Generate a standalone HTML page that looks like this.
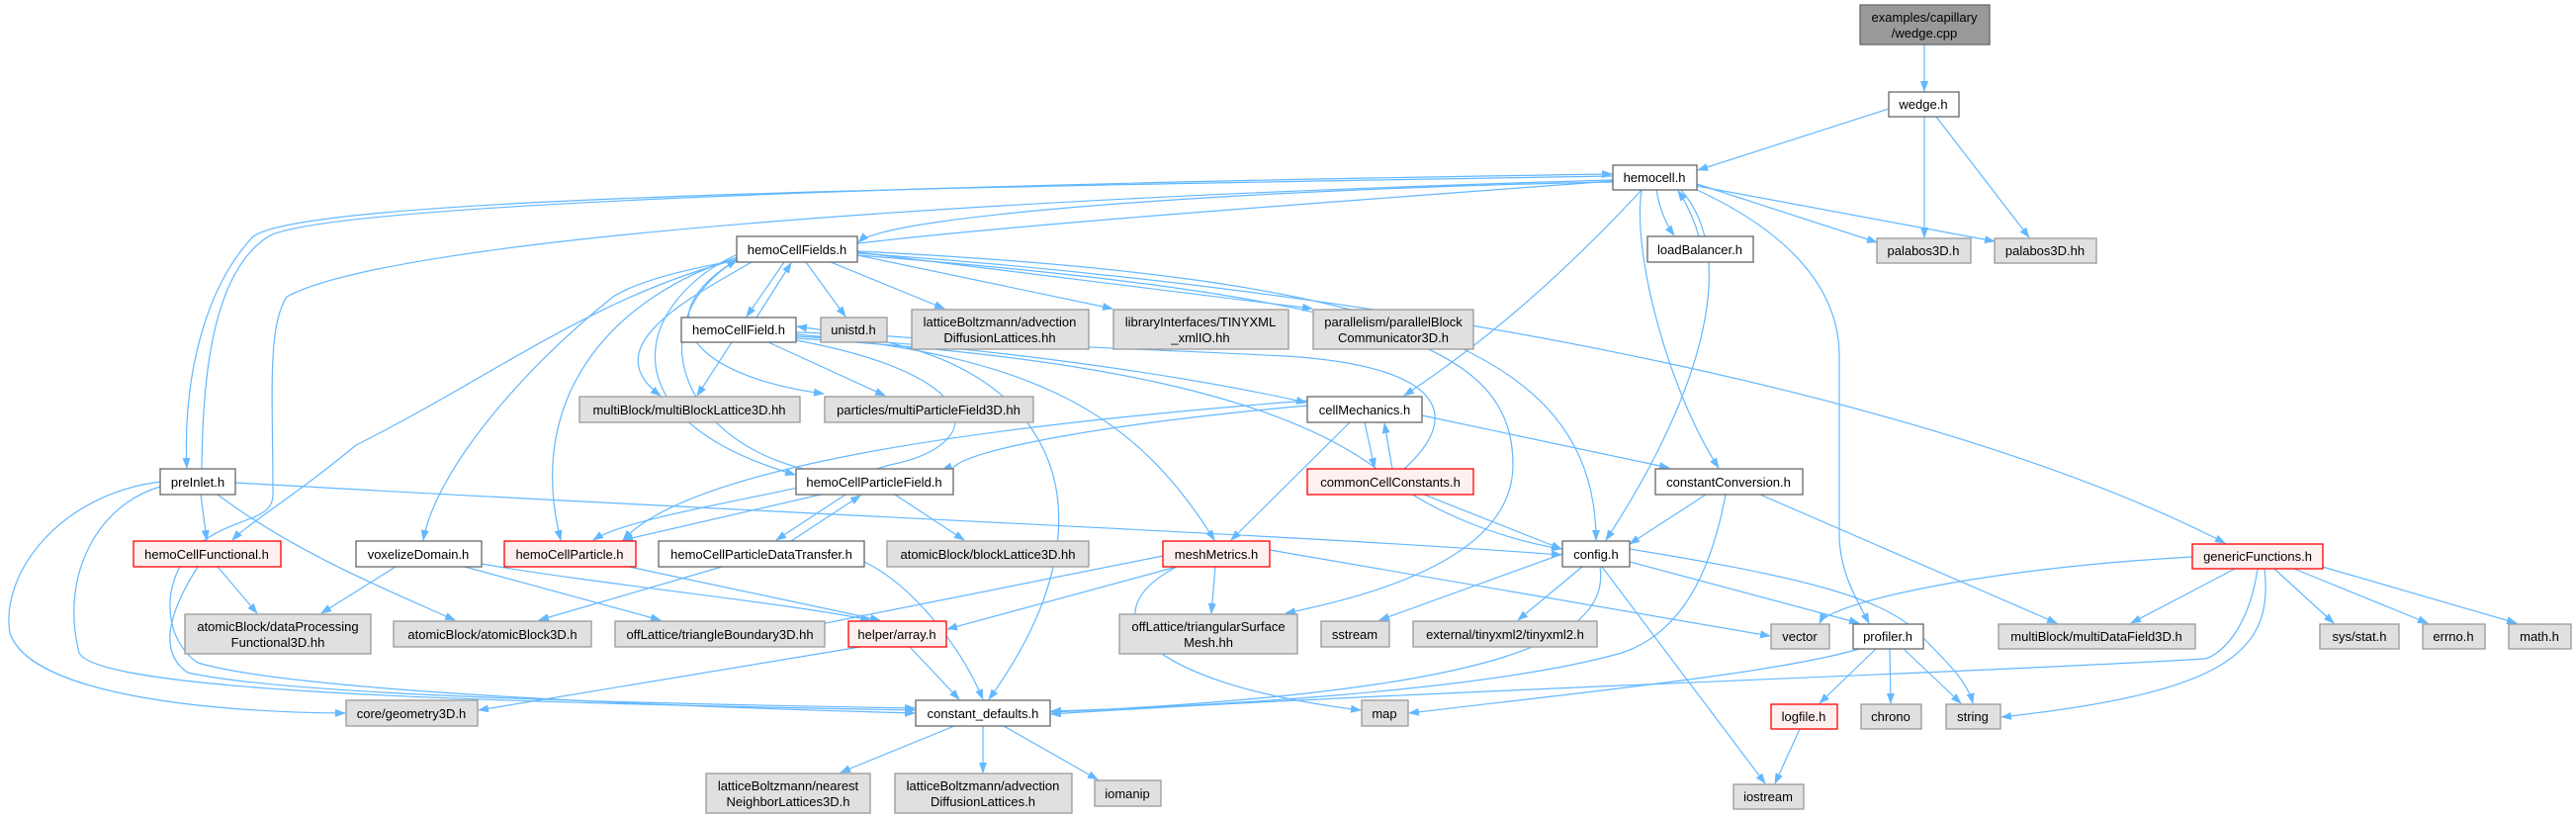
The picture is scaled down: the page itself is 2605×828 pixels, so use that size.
<!DOCTYPE html>
<html><head><meta charset="utf-8"><style>
html,body{margin:0;padding:0;background:#fff;}
svg{display:block;}
text{font-family:"Liberation Sans",Arial,sans-serif;font-size:13px;fill:#000;}
.e{fill:none;stroke:#63B8FF;stroke-width:1.2;marker-end:url(#a);}
.w{fill:#fff;stroke:#666;stroke-width:1.3;}
.g{fill:#e0e0e0;stroke:#999;stroke-width:1.3;}
.r{fill:#fff0f0;stroke:#f00;stroke-width:1.3;}
.k{fill:#999;stroke:#666;stroke-width:1.3;}
</style></head><body>
<svg width="2605" height="828" viewBox="0 0 2605 828" xmlns="http://www.w3.org/2000/svg">
<defs><marker id="a" markerWidth="11" markerHeight="8" refX="10" refY="4" orient="auto" markerUnits="userSpaceOnUse"><path d="M0,0 L11,4 L0,8 z" fill="#63B8FF"/></marker></defs>
<g>
<path class="e" d="M1946 45 L1946 92"/>
<path class="e" d="M1910 110 L1717 172"/>
<path class="e" d="M1946 118 L1946 240"/>
<path class="e" d="M1958 118 L2052 240"/>
<path class="e" d="M1716 186 L1898 245"/>
<path class="e" d="M1716 188 L2017 244"/>
<path class="e" d="M1675 192 Q1680 220 1693 238"/>
<path class="e" d="M1718 239 Q1710 212 1697 193"/>
<path class="e" d="M1631 184 C1300 190 900 215 868 245"/>
<path class="e" d="M1631 178 C900 190 300 200 255 240 C200 300 185 400 189 473"/>
<path class="e" d="M204 474 C205 400 210 280 270 240 C320 205 1000 185 1630 176"/>
<path class="e" d="M1631 182 C1000 200 400 240 290 300 C270 330 276 400 276 500 C276 530 230 520 190 560 C160 600 170 650 200 670 C300 700 700 715 925 721"/>
<path class="e" d="M1631 183 C1000 230 700 250 620 300 C520 380 440 480 428 546"/>
<path class="e" d="M162 487 C60 500 0 580 10 640 C30 700 200 720 349 721"/>
<path class="e" d="M162 492 C100 510 60 580 80 660 C100 700 500 710 925 718"/>
<path class="e" d="M200 573 C170 620 160 660 190 680 C300 705 700 712 925 716"/>
<path class="e" d="M238 488 C800 520 1300 540 1579 561"/>
<path class="e" d="M203 500 L209 546"/>
<path class="e" d="M220 500 C300 560 400 600 460 627"/>
<path class="e" d="M220 573 L260 620"/>
<path class="e" d="M400 573 L325 620"/>
<path class="e" d="M470 573 L668 627"/>
<path class="e" d="M487 570 C600 590 800 610 880 627"/>
<path class="e" d="M636 573 L890 627"/>
<path class="e" d="M730 573 L545 627"/>
<path class="e" d="M874 568 C920 590 970 650 994 707"/>
<path class="e" d="M800 547 L870 501"/>
<path class="e" d="M855 500 L785 546"/>
<path class="e" d="M830 500 L630 546"/>
<path class="e" d="M905 500 L975 546"/>
<path class="e" d="M746 257 C650 300 600 420 804 480"/>
<path class="e" d="M812 474 C680 440 650 320 745 263"/>
<path class="e" d="M746 260 C620 300 530 400 567 546"/>
<path class="e" d="M746 262 C600 300 500 380 360 450 C300 500 250 530 235 546"/>
<path class="e" d="M793 265 L755 320"/>
<path class="e" d="M765 321 L800 266"/>
<path class="e" d="M815 265 L855 320"/>
<path class="e" d="M840 265 L955 312"/>
<path class="e" d="M867 258 L1125 312"/>
<path class="e" d="M867 255 L1327 312"/>
<path class="e" d="M760 265 C700 300 600 350 668 400"/>
<path class="e" d="M746 262 C650 320 700 380 833 398"/>
<path class="e" d="M867 254 C1400 280 1614 350 1614 546"/>
<path class="e" d="M867 256 C1500 300 2000 420 2250 549"/>
<path class="e" d="M867 258 C1400 300 1530 350 1530 470 C1530 560 1400 600 1300 620"/>
<path class="e" d="M740 346 L705 400"/>
<path class="e" d="M777 346 L895 400"/>
<path class="e" d="M805 340 C1000 350 1200 380 1321 407"/>
<path class="e" d="M805 342 C1100 360 1300 400 1400 480 C1450 520 1520 545 1579 555"/>
<path class="e" d="M805 338 C1050 360 1150 420 1228 546"/>
<path class="e" d="M805 336 C1050 340 1150 500 1000 707"/>
<path class="e" d="M805 344 C1000 380 1000 450 900 470 C800 500 640 520 600 546"/>
<path class="e" d="M1322 410 C1100 430 950 460 964 478"/>
<path class="e" d="M1322 405 C1000 430 700 470 630 546"/>
<path class="e" d="M1380 427 L1390 473"/>
<path class="e" d="M1408 474 L1400 428"/>
<path class="e" d="M1438 420 L1688 473"/>
<path class="e" d="M1365 427 L1245 546"/>
<path class="e" d="M1440 500 L1579 555"/>
<path class="e" d="M1420 474 C1480 420 1460 370 1300 360 C1100 350 900 345 806 330"/>
<path class="e" d="M1725 500 L1648 550"/>
<path class="e" d="M1745 500 C1730 580 1700 640 1640 660 C1500 700 1200 715 1063 719"/>
<path class="e" d="M1780 500 L2080 630"/>
<path class="e" d="M1660 192 C1560 300 1480 360 1420 400"/>
<path class="e" d="M1660 192 C1650 260 1690 400 1738 473"/>
<path class="e" d="M1700 192 C1760 260 1720 400 1624 546"/>
<path class="e" d="M1716 192 C1820 240 1860 300 1860 360 L1860 540 C1860 580 1880 610 1890 630"/>
<path class="e" d="M1580 560 L1395 627"/>
<path class="e" d="M1600 573 L1535 627"/>
<path class="e" d="M1648 568 L1880 630"/>
<path class="e" d="M1648 555 C1800 580 1900 600 1940 640 C1970 670 1990 690 1995 711"/>
<path class="e" d="M1620 573 L1785 792"/>
<path class="e" d="M1618 573 C1630 650 1500 700 1063 720"/>
<path class="e" d="M1897 656 L1840 711"/>
<path class="e" d="M1911 656 L1912 711"/>
<path class="e" d="M1925 656 L1983 711"/>
<path class="e" d="M1880 656 C1800 680 1600 700 1425 721"/>
<path class="e" d="M1820 737 L1795 792"/>
<path class="e" d="M2217 563 C2000 575 1850 610 1840 630"/>
<path class="e" d="M2260 575 L2155 630"/>
<path class="e" d="M2300 575 L2360 630"/>
<path class="e" d="M2320 575 L2455 630"/>
<path class="e" d="M2345 572 L2545 630"/>
<path class="e" d="M2290 575 C2300 660 2250 700 2024 725"/>
<path class="e" d="M2283 575 C2275 630 2250 660 2230 666 C2000 680 1400 700 1063 722"/>
<path class="e" d="M1176 562 L800 637"/>
<path class="e" d="M1190 573 L958 636"/>
<path class="e" d="M1229 573 L1225 620"/>
<path class="e" d="M1190 573 C1100 620 1150 690 1376 718"/>
<path class="e" d="M1284 556 L1790 643"/>
<path class="e" d="M870 654 L484 718"/>
<path class="e" d="M920 654 L970 707"/>
<path class="e" d="M965 734 L850 781"/>
<path class="e" d="M994 734 L994 781"/>
<path class="e" d="M1015 734 L1110 788"/>
</g>
<g>
<rect class="k" x="1881" y="5" width="131" height="40"/><text x="1946" y="22" text-anchor="middle">examples/capillary</text><text x="1946" y="38" text-anchor="middle">/wedge.cpp</text>
<rect class="w" x="1910" y="93" width="71" height="25"/><text x="1945" y="110" text-anchor="middle">wedge.h</text>
<rect class="w" x="1631" y="167" width="85" height="25"/><text x="1673" y="184" text-anchor="middle">hemocell.h</text>
<rect class="w" x="1666" y="239" width="107" height="26"/><text x="1719" y="257" text-anchor="middle">loadBalancer.h</text>
<rect class="g" x="1898" y="241" width="95" height="25"/><text x="1945" y="258" text-anchor="middle">palabos3D.h</text>
<rect class="g" x="2017" y="241" width="103" height="25"/><text x="2068" y="258" text-anchor="middle">palabos3D.hh</text>
<rect class="w" x="745" y="239" width="122" height="26"/><text x="806" y="257" text-anchor="middle">hemoCellFields.h</text>
<rect class="g" x="922" y="313" width="179" height="40"/><text x="1011" y="330" text-anchor="middle">latticeBoltzmann/advection</text><text x="1011" y="346" text-anchor="middle">DiffusionLattices.hh</text>
<rect class="g" x="1126" y="313" width="177" height="40"/><text x="1214" y="330" text-anchor="middle">libraryInterfaces/TINYXML</text><text x="1214" y="346" text-anchor="middle">_xmlIO.hh</text>
<rect class="g" x="1328" y="313" width="162" height="40"/><text x="1409" y="330" text-anchor="middle">parallelism/parallelBlock</text><text x="1409" y="346" text-anchor="middle">Communicator3D.h</text>
<rect class="w" x="689" y="321" width="116" height="25"/><text x="747" y="338" text-anchor="middle">hemoCellField.h</text>
<rect class="g" x="830" y="321" width="67" height="25"/><text x="863" y="338" text-anchor="middle">unistd.h</text>
<rect class="g" x="586" y="401" width="223" height="26"/><text x="697" y="419" text-anchor="middle">multiBlock/multiBlockLattice3D.hh</text>
<rect class="g" x="834" y="401" width="211" height="26"/><text x="939" y="419" text-anchor="middle">particles/multiParticleField3D.hh</text>
<rect class="w" x="1322" y="401" width="116" height="26"/><text x="1380" y="419" text-anchor="middle">cellMechanics.h</text>
<rect class="w" x="162" y="474" width="76" height="26"/><text x="200" y="492" text-anchor="middle">preInlet.h</text>
<rect class="w" x="805" y="474" width="159" height="26"/><text x="884" y="492" text-anchor="middle">hemoCellParticleField.h</text>
<rect class="r" x="1322" y="474" width="168" height="26"/><text x="1406" y="492" text-anchor="middle">commonCellConstants.h</text>
<rect class="w" x="1674" y="474" width="149" height="26"/><text x="1748" y="492" text-anchor="middle">constantConversion.h</text>
<rect class="r" x="135" y="547" width="149" height="26"/><text x="209" y="565" text-anchor="middle">hemoCellFunctional.h</text>
<rect class="w" x="360" y="547" width="127" height="26"/><text x="423" y="565" text-anchor="middle">voxelizeDomain.h</text>
<rect class="r" x="510" y="547" width="133" height="26"/><text x="576" y="565" text-anchor="middle">hemoCellParticle.h</text>
<rect class="w" x="666" y="547" width="208" height="26"/><text x="770" y="565" text-anchor="middle">hemoCellParticleDataTransfer.h</text>
<rect class="g" x="897" y="547" width="204" height="26"/><text x="999" y="565" text-anchor="middle">atomicBlock/blockLattice3D.hh</text>
<rect class="r" x="1176" y="547" width="108" height="26"/><text x="1230" y="565" text-anchor="middle">meshMetrics.h</text>
<rect class="w" x="1580" y="547" width="68" height="26"/><text x="1614" y="565" text-anchor="middle">config.h</text>
<rect class="r" x="2217" y="550" width="132" height="25"/><text x="2283" y="567" text-anchor="middle">genericFunctions.h</text>
<rect class="g" x="187" y="621" width="188" height="40"/><text x="281" y="638" text-anchor="middle">atomicBlock/dataProcessing</text><text x="281" y="654" text-anchor="middle">Functional3D.hh</text>
<rect class="g" x="398" y="628" width="200" height="26"/><text x="498" y="646" text-anchor="middle">atomicBlock/atomicBlock3D.h</text>
<rect class="g" x="622" y="628" width="212" height="26"/><text x="728" y="646" text-anchor="middle">offLattice/triangleBoundary3D.hh</text>
<rect class="r" x="858" y="628" width="99" height="26"/><text x="907" y="646" text-anchor="middle">helper/array.h</text>
<rect class="g" x="1132" y="621" width="180" height="40"/><text x="1222" y="638" text-anchor="middle">offLattice/triangularSurface</text><text x="1222" y="654" text-anchor="middle">Mesh.hh</text>
<rect class="g" x="1336" y="628" width="69" height="26"/><text x="1370" y="646" text-anchor="middle">sstream</text>
<rect class="g" x="1429" y="628" width="186" height="26"/><text x="1522" y="646" text-anchor="middle">external/tinyxml2/tinyxml2.h</text>
<rect class="g" x="1791" y="631" width="59" height="25"/><text x="1820" y="648" text-anchor="middle">vector</text>
<rect class="w" x="1874" y="631" width="71" height="25"/><text x="1909" y="648" text-anchor="middle">profiler.h</text>
<rect class="g" x="2021" y="631" width="199" height="25"/><text x="2120" y="648" text-anchor="middle">multiBlock/multiDataField3D.h</text>
<rect class="g" x="2346" y="631" width="80" height="25"/><text x="2386" y="648" text-anchor="middle">sys/stat.h</text>
<rect class="g" x="2450" y="631" width="63" height="25"/><text x="2481" y="648" text-anchor="middle">errno.h</text>
<rect class="g" x="2537" y="631" width="63" height="25"/><text x="2568" y="648" text-anchor="middle">math.h</text>
<rect class="g" x="350" y="708" width="133" height="26"/><text x="416" y="726" text-anchor="middle">core/geometry3D.h</text>
<rect class="w" x="926" y="708" width="136" height="26"/><text x="994" y="726" text-anchor="middle">constant_defaults.h</text>
<rect class="g" x="1377" y="708" width="47" height="26"/><text x="1400" y="726" text-anchor="middle">map</text>
<rect class="r" x="1791" y="712" width="67" height="25"/><text x="1824" y="729" text-anchor="middle">logfile.h</text>
<rect class="g" x="1882" y="712" width="61" height="25"/><text x="1912" y="729" text-anchor="middle">chrono</text>
<rect class="g" x="1968" y="712" width="55" height="25"/><text x="1995" y="729" text-anchor="middle">string</text>
<rect class="g" x="714" y="782" width="166" height="40"/><text x="797" y="799" text-anchor="middle">latticeBoltzmann/nearest</text><text x="797" y="815" text-anchor="middle">NeighborLattices3D.h</text>
<rect class="g" x="905" y="782" width="179" height="40"/><text x="994" y="799" text-anchor="middle">latticeBoltzmann/advection</text><text x="994" y="815" text-anchor="middle">DiffusionLattices.h</text>
<rect class="g" x="1107" y="789" width="67" height="26"/><text x="1140" y="807" text-anchor="middle">iomanip</text>
<rect class="g" x="1753" y="793" width="71" height="25"/><text x="1788" y="810" text-anchor="middle">iostream</text>
</g>
</svg>
</body></html>
